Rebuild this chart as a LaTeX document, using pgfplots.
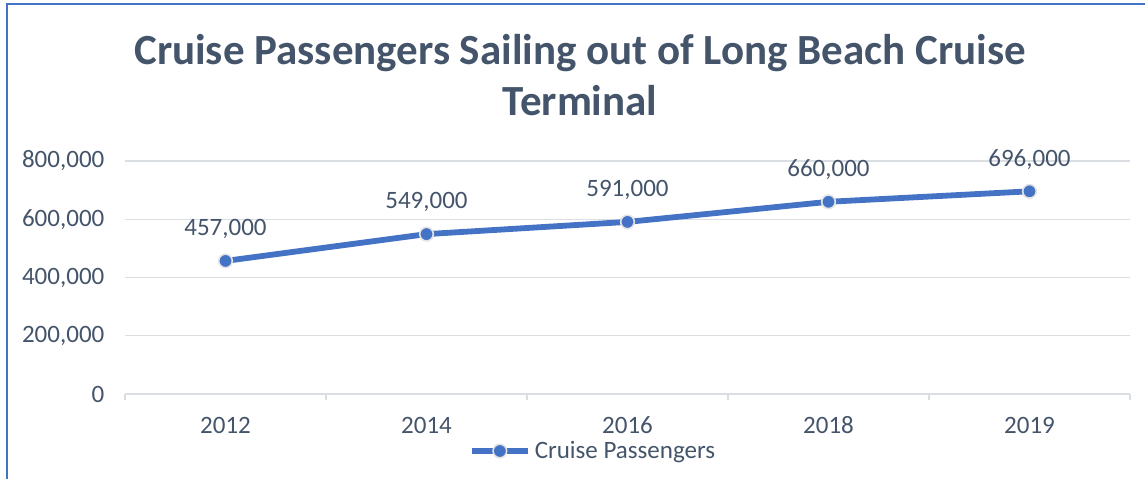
\documentclass[border=0pt]{standalone}
\usepackage{pgfplots}
\pgfplotsset{compat=1.18}
\usepackage{fontspec}
\setmainfont{Carlito}
\definecolor{serblue}{HTML}{4472C4}
\definecolor{txt}{HTML}{44546A}
\definecolor{gridc}{HTML}{DADDE2}
\definecolor{mkedge}{HTML}{E4E4E4}
\begin{document}
\begin{tikzpicture}
\useasboundingbox (0,0) rectangle (572.5pt,239.5pt);
\draw[serblue, line width=1pt] (3.25pt,0) -- (3.25pt,237.5pt) -- (572.5pt,237.5pt);
\node[txt, font=\fontsize{21.5}{25.5}\selectfont\bfseries, align=center] at (290pt,202pt)
  {Cruise Passengers Sailing out of Long Beach Cruise\\Terminal};
\begin{axis}[
  scale only axis,
  at={(62.5pt,42.5pt)}, anchor=south west,
  width=502.5pt, height=116.5pt,
  xmin=-0.5, xmax=4.5,
  ymin=0, ymax=800000,
  xtick={0,1,2,3,4},
  xticklabels={2012,2014,2016,2018,2019},
  minor xtick={-0.5,0.5,1.5,2.5,3.5,4.5},
  ytick={0,200000,400000,600000,800000},
  scaled y ticks=false,
  /pgf/number format/assume math mode=true,
  yticklabel style={/pgf/number format/fixed, /pgf/number format/1000 sep={,}, anchor=east, xshift=-6.8pt},
  xticklabel style={anchor=center, yshift=-15.5pt},
  tick label style={font=\fontsize{12.5}{15}\selectfont, text=txt},
  major tick length=0pt,
  minor tick length=3pt,
  tick align=outside,
  minor tick style={gridc, line width=0.7pt},
  axis x line*=bottom,
  axis y line*=left,
  y axis line style={draw=none},
  x axis line style={gridc, line width=0.8pt, -},
  ymajorgrids,
  major grid style={gridc, line width=0.7pt},
  clip=false,
  nodes near coords={\pgfmathprintnumber[fixed,precision=0,1000 sep={,}]{\pgfplotspointmeta}},
  every node near coord/.style={anchor=center, yshift=16pt, font=\fontsize{12.5}{15}\selectfont, text=txt},
  legend style={at={(0.4667,-0.2446)}, anchor=center, draw=none, fill=none,
    font=\fontsize{12.5}{15}\selectfont, text=txt, inner sep=0pt},
  legend image code/.code={\draw[mark repeat=2,mark phase=2,#1] plot coordinates {(0pt,0pt) (14pt,0pt) (28pt,0pt)};},
]
\addplot[serblue, line width=2.9pt, mark=*, mark size=3.4pt,
  mark options={fill=serblue, draw=mkedge, line width=0.8pt}]
  coordinates {(0,457000) (1,549000) (2,591000) (3,660000) (4,696000)};
\addlegendentry{Cruise Passengers}
\end{axis}
\end{tikzpicture}
\end{document}
